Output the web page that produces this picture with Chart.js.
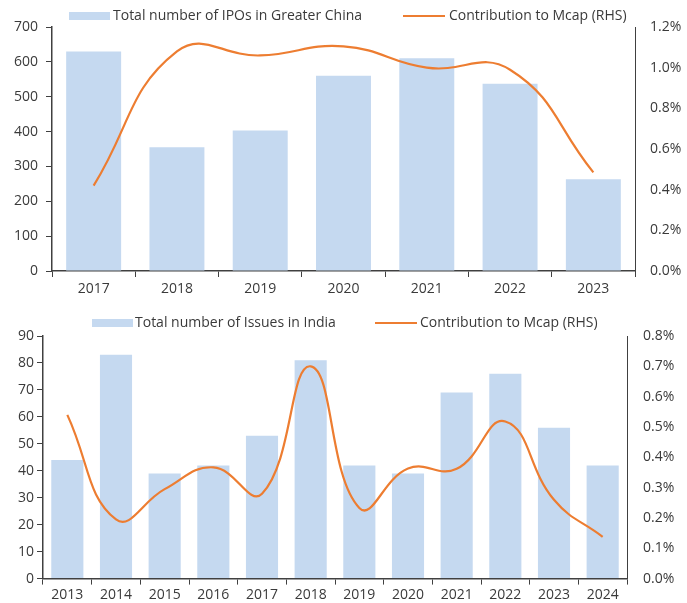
<!DOCTYPE html>
<html>
<head>
<meta charset="utf-8">
<script src="https://cdn.jsdelivr.net/npm/chart.js@4.4.1/dist/chart.umd.min.js"></script>
<style>
  body { margin: 0; background: #fff; font-family: "Open Sans", sans-serif; color: #3a3a3a; }
  #wrap { position: relative; width: 687px; height: 603px; overflow: hidden; }
  canvas { position: absolute; left: 0; }
  .lg { position: absolute; font-size: 14px; line-height: 18px; white-space: nowrap; }
  .box { position: absolute; background: #c5d9f0; height: 8px; width: 41px; }
  .ln { position: absolute; background: #ed7d31; height: 2px; width: 42px; }
</style>
</head>
<body>
<div id="wrap">
  <canvas id="china" width="687" height="300" style="top:0"></canvas>
  <canvas id="india" width="687" height="303" style="top:300px"></canvas>

  <!-- legends -->
  <div class="box" style="left:69px; top:12px"></div>
  <div class="lg" style="left:113px; top:6px">Total number of IPOs in Greater China</div>
  <div class="ln" style="left:403px; top:15px"></div>
  <div class="lg" style="left:449px; top:6px">Contribution to Mcap (RHS)</div>

  <div class="box" style="left:92px; top:319px"></div>
  <div class="lg" style="left:135px; top:313px">Total number of Issues in India</div>
  <div class="ln" style="left:375px; top:322px"></div>
  <div class="lg" style="left:420px; top:313px">Contribution to Mcap (RHS)</div>
</div>
<script>
// Greater China
const chinaYears = ['2017', '2018', '2019', '2020', '2021', '2022', '2023'];
const chinaIpos = [630, 355, 403, 560, 610, 537, 263];
const chinaMcap = [0.42, 1.08, 1.06, 1.105, 1.00, 0.99, 0.485]; // %

// India
const indiaYears = ['2013', '2014', '2015', '2016', '2017', '2018', '2019', '2020', '2021', '2022', '2023', '2024'];
const indiaIssues = [44, 83, 39, 42, 53, 81, 42, 39, 69, 76, 56, 42];
const indiaMcap = [0.54, 0.195, 0.295, 0.367, 0.28, 0.70, 0.233, 0.363, 0.362, 0.518, 0.26, 0.138]; // %

const BAR = '#c5d9f0';
const LINE = '#ed7d31';
const AXIS = '#404040';
const TXT = '#3a3a3a';
const FONT = { family: 'Open Sans', size: 14 };

function makeChart(id, cfg) {
    const ctx = document.getElementById(id).getContext('2d');
    return new Chart(ctx, {
        type: 'bar',
        data: {
            labels: cfg.labels,
            datasets: [{
                type: 'line',
                data: cfg.line,
                yAxisID: 'y1',
                borderColor: LINE,
                borderWidth: 2.2,
                pointRadius: 0,
                tension: 0.45,
                order: 1
            }, {
                data: cfg.bars,
                yAxisID: 'y',
                backgroundColor: BAR,
                barPercentage: 0.66,
                categoryPercentage: 1,
                order: 2
            }]
        },
        options: {
            responsive: false,
            animation: false,
            layout: { padding: { top: cfg.top, left: 0, right: 0, bottom: 0 } },
            plugins: { legend: { display: false }, tooltip: { enabled: false } },
            scales: {
                x: {
                    grid: { display: true, drawOnChartArea: false, offset: true, tickLength: 6, color: AXIS },
                    border: { display: true, color: AXIS, width: 1.5 },
                    ticks: { color: TXT, font: FONT, padding: cfg.xPad, maxRotation: 0 },
                    afterFit: s => { s.height = cfg.xh; }
                },
                y: {
                    position: 'left',
                    min: 0, max: cfg.leftMax,
                    grid: { display: true, drawOnChartArea: false, tickLength: 6, color: AXIS },
                    border: { display: true, color: AXIS, width: 1.5 },
                    ticks: { stepSize: cfg.leftStep, color: TXT, font: FONT, padding: cfg.leftPad },
                    afterFit: s => { s.width = cfg.lw; }
                },
                y1: {
                    position: 'right',
                    min: 0, max: cfg.rightMax,
                    grid: { display: true, drawOnChartArea: false, drawTicks: false },
                    border: { display: true, color: AXIS, width: 1 },
                    ticks: {
                        stepSize: cfg.rightStep, color: TXT, font: FONT, padding: cfg.rightPad,
                        callback: v => v.toFixed(1) + '%'
                    },
                    afterFit: s => { s.width = cfg.rw; }
                }
            }
        }
    });
}

makeChart('china', {
    labels: chinaYears, bars: chinaIpos, line: chinaMcap,
    leftMax: 700, leftStep: 100, rightMax: 1.2, rightStep: 0.2,
    top: 27, xh: 29, xPad: 4, lw: 52, rw: 52, leftPad: 8, rightPad: 15
});

makeChart('india', {
    labels: indiaYears, bars: indiaIssues, line: indiaMcap,
    leftMax: 90, leftStep: 10, rightMax: 0.8, rightStep: 0.1,
    top: 36, xh: 24, xPad: 2, lw: 43, rw: 60, leftPad: 3, rightPad: 16
});
</script>
</body>
</html>
